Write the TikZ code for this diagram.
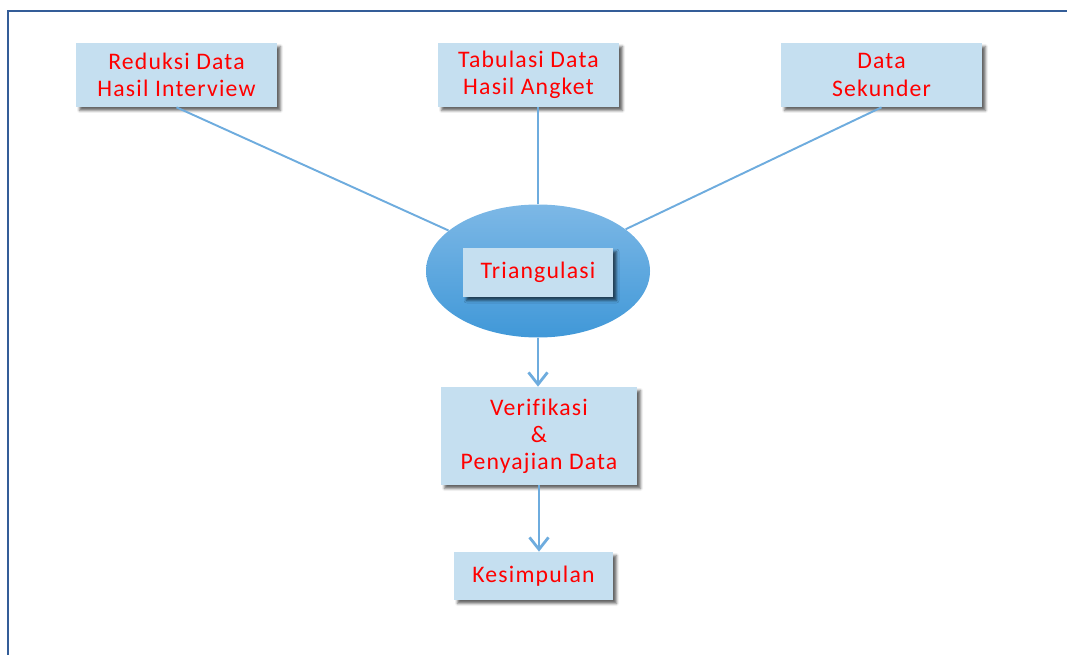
\documentclass[tikz,border=0pt]{standalone}
\usepackage{fontspec}
\setmainfont[LetterSpace=5,Ligatures=NoCommon]{Carlito}
\usetikzlibrary{shapes.geometric,shadows.blur,arrows.meta}
\definecolor{kotakbiru}{RGB}{197,223,240}
\definecolor{garis}{RGB}{110,172,222}
\definecolor{bingkai}{RGB}{52,93,152}
\definecolor{elipsatas}{RGB}{125,184,230}
\definecolor{elipsbawah}{RGB}{64,152,216}

\begin{document}
\begin{tikzpicture}[x=0.2mm,y=-0.2mm,
  kotak/.style={fill=kotakbiru, text=red, align=center, inner sep=0pt,
    font=\fontsize{13.5}{15.4}\selectfont,
    blur shadow={shadow xshift=0.7mm, shadow yshift=-0.7mm, shadow blur radius=0.5mm, shadow opacity=60}},
  garisan/.style={draw=garis, line width=1.1pt},
  panah/.style={draw=garis, line width=1.6pt, -{Straight Barb[length=2.4mm,width=3.8mm]}}]
 			\useasboundingbox (0,0) rectangle (1067,655);
 			\draw[bingkai, line width=1.6pt] (8,655) -- (8,11) -- (1067,11);
 			\node[kotak, minimum width=40.2mm, minimum height=12.8mm] (reduksi) at (176.5,75) {Reduksi Data\\Hasil Interview};
 			\node[kotak, minimum width=36.2mm, minimum height=12.8mm] (tabulasi) at (528.5,75) {Tabulasi Data\\Hasil Angket};
 			\node[kotak, minimum width=40.2mm, minimum height=12.8mm] (sekunder) at (881.5,75) {Data\\Sekunder};
 			\node[ellipse, minimum width=44.8mm, minimum height=26.6mm, inner sep=0pt, top color=elipsatas, bottom color=elipsbawah] (elips) at (538,271) {};
 			\node[kotak, minimum width=30mm, minimum height=9.8mm] (triangulasi) at (538,272.5) {Triangulasi};
 			\node[kotak, minimum width=39.2mm, minimum height=19.6mm] (verifikasi) at (539,436) {Verifikasi\\\&\\Penyajian Data};
 			\node[kotak, minimum width=31.8mm, minimum height=9.6mm] (kesimpulan) at (533.5,576) {Kesimpulan};
 			\draw[garisan] (reduksi.south) -- (elips);
 			\draw[garisan] (elips.north |- tabulasi.south) -- (elips.north);
 			\draw[garisan] (sekunder.south) -- (elips);
 			\draw[panah] (elips.south) -- (elips.south |- verifikasi.north);
 			\draw[panah] (verifikasi.south) -- (verifikasi.south |- kesimpulan.north);
\end{tikzpicture}
\end{document}
